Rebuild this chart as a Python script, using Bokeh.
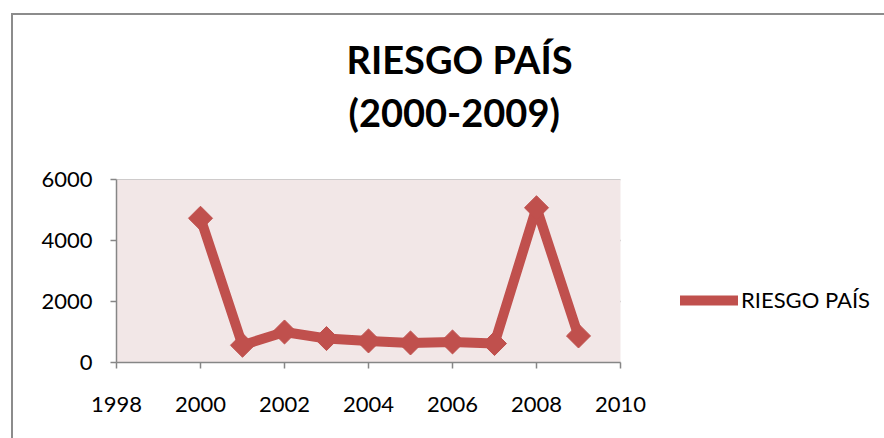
from bokeh.plotting import figure
from bokeh.models import (Title, Legend, LegendItem, FixedTicker, Range1d,
                          InlineStyleSheet, ColumnDataSource, BoxAnnotation)
from bokeh.embed import file_html
from bokeh.resources import INLINE

# ---- data ----
years = [2000, 2001, 2002, 2003, 2004, 2005, 2006, 2007, 2008, 2009]
riesgo = [4730, 566, 1000, 785, 707, 641, 674, 622, 5073, 870]
x_ticks = [1998, 2000, 2002, 2004, 2006, 2008, 2010]
y_ticks = [0, 2000, 4000, 6000]
series_name = "RIESGO PAÍS"
title_line1 = "RIESGO PAÍS"
title_line2 = "(2000-2009)"

FONT = "Lato"
RED = "#C0504D"
GRAY = "#868686"
PINK = "#F2E7E7"

X0, X1 = x_ticks[0], x_ticks[-1]
Y0, Y1 = y_ticks[0], y_ticks[-1]

W, H = 884, 438
LEFT, TOP, BOTTOM = 116, 179, 76
AREA_PX = 504                      # width of the plot area in pixels
frame_w = W - LEFT
x_end = X0 + (X1 - X0) * frame_w / AREA_PX   # frame extends right to hold the legend

src = ColumnDataSource(data=dict(year=years, value=riesgo))

p = figure(width=W, height=H, output_backend="svg", toolbar_location=None,
           x_range=Range1d(X0, x_end), y_range=Range1d(Y0, Y1),
           min_border_left=LEFT, min_border_right=0,
           min_border_top=TOP, min_border_bottom=BOTTOM)

p.background_fill_color = "white"
p.border_fill_color = "white"
p.outline_line_color = None

# plot area background
p.add_layout(BoxAnnotation(left=X0, right=X1, bottom=Y0, top=Y1,
                           fill_color=PINK, fill_alpha=1, line_color=None,
                           level="underlay"))
# horizontal gridlines limited to the plot area
grid = p.segment(x0=[X0] * len(y_ticks), x1=[X1] * len(y_ticks),
                 y0=y_ticks, y1=y_ticks, line_color=GRAY, line_width=1.5)
grid.level = "underlay"

# titles (later-added sits farther from the frame)
t2 = Title(text=title_line2, align="left", offset=232, standoff=89,
           text_font=FONT, text_font_size="38px", text_font_style="bold",
           text_color="black")
t1 = Title(text=title_line1, align="left", offset=230, standoff=-79,
           text_font=FONT, text_font_size="38px", text_font_style="bold",
           text_color="black")
p.add_layout(t2, "above")
p.add_layout(t1, "above")

# series
ln = p.line("year", "value", source=src, line_color=RED, line_width=10,
            line_join="round", line_cap="round")
mk = p.scatter("year", "value", source=src, marker="square", size=17,
               angle=0.785398, fill_color=RED, line_color=RED)

# axes
for ax in (p.xaxis[0], p.yaxis[0]):
    ax.axis_line_color = GRAY
    ax.axis_line_width = 1.5
    ax.major_tick_line_color = GRAY
    ax.major_tick_line_width = 1.5
    ax.major_tick_in = 0
    ax.major_tick_out = 6
    ax.minor_tick_line_color = None
    ax.major_label_text_font = FONT
    ax.major_label_text_font_size = "22px"
    ax.major_label_text_color = "black"

p.xaxis[0].ticker = FixedTicker(ticks=x_ticks)
p.xaxis[0].bounds = (X0, X1)
p.yaxis[0].ticker = FixedTicker(ticks=y_ticks)
p.xaxis[0].major_label_standoff = 28
p.yaxis[0].major_label_standoff = 18

p.xgrid.grid_line_color = None
p.ygrid.grid_line_color = None

legend = Legend(items=[LegendItem(label=series_name, renderers=[ln, mk])],
                location=(564, 49), orientation="vertical",
                glyph_width=58, glyph_height=20, label_standoff=3,
                label_text_font=FONT, label_text_font_size="22px",
                label_text_color="black", border_line_color=None,
                background_fill_alpha=0, margin=0, padding=5)
p.add_layout(legend, "center")

# outer chart border (top and left edges visible in the reference)
p.stylesheets = [InlineStyleSheet(css="""
:host { position: relative; overflow: hidden; }
:host::after {
  content: ""; position: absolute; left: 11px; top: 13px;
  width: 3000px; height: 3000px;
  border-left: 2px solid #8c8c8c; border-top: 2px solid #8c8c8c;
  pointer-events: none;
}
""")]

open("out.html", "w").write(file_html(p, INLINE))
